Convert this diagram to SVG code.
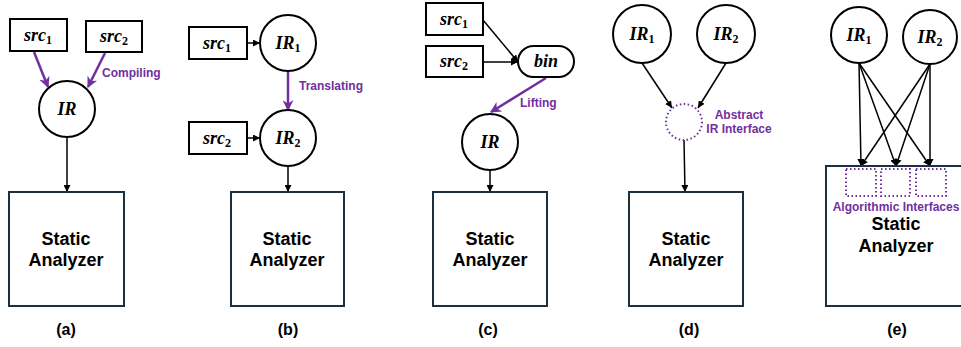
<svg xmlns="http://www.w3.org/2000/svg" width="961" height="347" viewBox="0 0 961 347">
<defs>
<marker id="ab" viewBox="0 0 10 10" refX="10" refY="5" markerUnits="userSpaceOnUse" markerWidth="7" markerHeight="7" orient="auto"><path d="M0,0 L10,5 L0,10 z" fill="#000"/></marker>
<marker id="ap" viewBox="0 0 10 10" refX="9" refY="5" markerUnits="userSpaceOnUse" markerWidth="11" markerHeight="11" orient="auto"><path d="M0,0 L10,5 L0,10 L3,5 z" fill="#7030a0"/></marker>
<style>
.n{fill:#fff;stroke:#000;stroke-width:2}
.box{fill:#fff;stroke:#1c3140;stroke-width:2}
.dot{fill:none;stroke:#7030a0;stroke-width:2;stroke-dasharray:1.5 2.5}
.m{font-family:"Liberation Serif",serif;font-style:italic;font-weight:bold;font-size:18px;text-anchor:middle}
.sub{font-size:12px;font-style:normal}
.sa{font-family:"Liberation Sans",Arial,sans-serif;font-weight:bold;font-size:18px;text-anchor:middle;fill:#000}
.cap{font-family:"Liberation Sans",Arial,sans-serif;font-weight:bold;font-size:16px;text-anchor:middle;fill:#000}
.pl{font-family:"Liberation Sans",Arial,sans-serif;font-weight:bold;font-size:12px;fill:#7030a0}
.c{stroke:#000;stroke-width:1.5;fill:none;marker-end:url(#ab)}
.p{stroke:#7030a0;stroke-width:2.5;fill:none;marker-end:url(#ap)}
</style>
</defs>

<g id="connectors">
<line class="p" x1="34" y1="52" x2="48" y2="87"/>
<line class="p" x1="105" y1="53" x2="88" y2="87"/>
<line class="c" x1="67" y1="137" x2="67" y2="192"/>
<line class="c" x1="247" y1="43" x2="260" y2="43"/>
<line class="c" x1="247" y1="138" x2="260" y2="138"/>
<line class="p" x1="288" y1="71" x2="288" y2="110"/>
<line class="c" x1="288" y1="166" x2="288" y2="192"/>
<line class="c" x1="483" y1="20" x2="518" y2="62"/>
<line class="c" x1="483" y1="62" x2="518" y2="62"/>
<line class="p" x1="546" y1="78" x2="491" y2="112"/>
<line class="c" x1="490" y1="170" x2="490" y2="192"/>
<line class="c" x1="642" y1="63" x2="672" y2="108"/>
<line class="c" x1="726" y1="63" x2="698" y2="108"/>
<line class="c" x1="684" y1="140" x2="685" y2="192"/>
<line class="c" x1="859" y1="63" x2="861" y2="166"/>
<line class="c" x1="859" y1="63" x2="896" y2="166"/>
<line class="c" x1="859" y1="63" x2="930" y2="166"/>
<line class="c" x1="930" y1="64" x2="861" y2="166"/>
<line class="c" x1="930" y1="64" x2="896" y2="166"/>
<line class="c" x1="930" y1="64" x2="930" y2="166"/>
</g>

<g id="a-src1"><rect class="n" x="10" y="19" width="57" height="32"/><text class="m" x="38" y="41">src<tspan class="sub" dy="3">1</tspan></text></g>
<g id="a-src2"><rect class="n" x="86" y="21" width="56" height="31"/><text class="m" x="114" y="42">src<tspan class="sub" dy="3">2</tspan></text></g>
<g id="a-ir"><circle class="n" cx="67" cy="109" r="28"/><text class="m" x="67" y="115">IR</text></g>
<g id="a-sa"><rect class="box" x="9" y="192" width="115" height="114"/><text class="sa" x="66" y="245">Static</text><text class="sa" x="66" y="266">Analyzer</text></g>
<text class="pl" x="102" y="77">Compiling</text>
<text class="cap" x="66" y="335">(a)</text>

<g id="b-src1"><rect class="n" x="189" y="27" width="58" height="32"/><text class="m" x="217" y="49">src<tspan class="sub" dy="3">1</tspan></text></g>
<g id="b-ir1"><circle class="n" cx="288" cy="43" r="28"/><text class="m" x="288" y="49">IR<tspan class="sub" dy="3">1</tspan></text></g>
<g id="b-src2"><rect class="n" x="189" y="122" width="58" height="32"/><text class="m" x="217" y="144">src<tspan class="sub" dy="3">2</tspan></text></g>
<g id="b-ir2"><circle class="n" cx="288" cy="138" r="28"/><text class="m" x="288" y="144">IR<tspan class="sub" dy="3">2</tspan></text></g>
<g id="b-sa"><rect class="box" x="231" y="192" width="113" height="114"/><text class="sa" x="287" y="245">Static</text><text class="sa" x="287" y="266">Analyzer</text></g>
<text class="pl" x="299" y="90">Translating</text>
<text class="cap" x="288" y="335">(b)</text>

<g id="c-src1"><rect class="n" x="426" y="3" width="57" height="32"/><text class="m" x="454" y="25">src<tspan class="sub" dy="3">1</tspan></text></g>
<g id="c-src2"><rect class="n" x="426" y="46" width="57" height="31"/><text class="m" x="454" y="67">src<tspan class="sub" dy="3">2</tspan></text></g>
<g id="c-bin"><rect class="n" x="518" y="46" width="56" height="31" rx="15.5"/><text class="m" x="546" y="67">bin</text></g>
<g id="c-ir"><circle class="n" cx="490" cy="142" r="28"/><text class="m" x="490" y="148">IR</text></g>
<g id="c-sa"><rect class="box" x="433" y="192" width="114" height="114"/><text class="sa" x="490" y="245">Static</text><text class="sa" x="490" y="266">Analyzer</text></g>
<text class="pl" x="520" y="107">Lifting</text>
<text class="cap" x="488" y="335">(c)</text>

<g id="d-ir1"><circle class="n" cx="642" cy="34" r="29"/><text class="m" x="642" y="40">IR<tspan class="sub" dy="3">1</tspan></text></g>
<g id="d-ir2"><circle class="n" cx="726" cy="34" r="29"/><text class="m" x="726" y="40">IR<tspan class="sub" dy="3">2</tspan></text></g>
<g id="d-abs"><circle class="dot" cx="684" cy="122" r="18"/><text class="pl" x="739" y="119" text-anchor="middle">Abstract</text><text class="pl" x="739" y="133" text-anchor="middle">IR Interface</text></g>
<g id="d-sa"><rect class="box" x="629" y="192" width="114" height="114"/><text class="sa" x="686" y="245">Static</text><text class="sa" x="686" y="266">Analyzer</text></g>
<text class="cap" x="689" y="335">(d)</text>

<g id="e-ir1"><circle class="n" cx="859" cy="35" r="28"/><text class="m" x="859" y="41">IR<tspan class="sub" dy="3">1</tspan></text></g>
<g id="e-ir2"><circle class="n" cx="930" cy="37" r="27"/><text class="m" x="930" y="43">IR<tspan class="sub" dy="3">2</tspan></text></g>
<g id="e-sa"><rect class="box" x="826" y="166" width="160" height="140"/>
<rect class="dot" x="846" y="169" width="30" height="27"/>
<rect class="dot" x="881" y="169" width="29" height="27"/>
<rect class="dot" x="916" y="169" width="30" height="27"/>
<text class="pl" x="896" y="211" text-anchor="middle">Algorithmic Interfaces</text>
<text class="sa" x="896" y="230">Static</text><text class="sa" x="896" y="252">Analyzer</text></g>
<text class="cap" x="897" y="335">(e)</text>
</svg>
